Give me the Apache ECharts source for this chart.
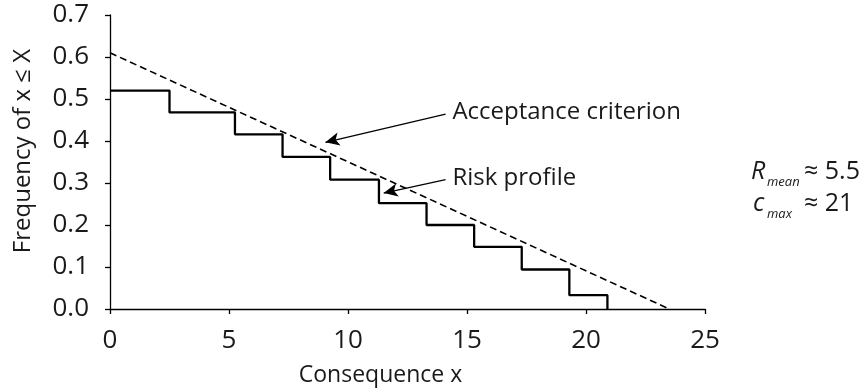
<!DOCTYPE html>
<html>
<head>
<meta charset="utf-8">
<script src="https://cdn.jsdelivr.net/npm/echarts@6/dist/echarts.min.js"></script>
<style>html,body{margin:0;padding:0;background:#fff}#c{width:867px;height:392px}</style>
</head>
<body>
<div id="c"></div>
<script>
// Risk profile (step curve): consequence x and frequency of x <= X
const stepX = [0, 2.5, 5.25, 7.25, 9.25, 11.3, 13.3, 15.3, 17.3, 19.3, 20.9];
const stepY = [0.52, 0.468, 0.416, 0.362, 0.308, 0.252, 0.2, 0.148, 0.094, 0.033, 0];
// Acceptance criterion (dashed straight line)
const critX = [0, 23.5];
const critY = [0.61, 0];
// Axis ticks
const xTicks = [0, 5, 10, 15, 20, 25];
const yTicks = [0.0, 0.1, 0.2, 0.3, 0.4, 0.5, 0.6, 0.7];
// Annotation arrows: [label, fromX, fromY, tipX, tipY]
const annotations = [
  ['Acceptance criterion', 14.1, 0.464, 9.05, 0.397],
  ['Risk profile', 14.1, 0.308, 11.5, 0.276]
];
const FONT = 'Open Sans';
const INK = '#1a1a1a';

const chart = echarts.init(document.getElementById('c'), null, {renderer: 'canvas'});
const zip = (a, b) => a.map((v, i) => [v, b[i]]);

chart.setOption({
  animation: false,
  textStyle: {fontFamily: FONT, color: INK},
  grid: {left: 110, right: 162, top: 15, bottom: 83, containLabel: false},
  xAxis: {
    type: 'value', min: xTicks[0], max: xTicks[xTicks.length - 1], interval: 5,
    name: 'Consequence x', nameLocation: 'middle', nameGap: 55,
    nameTextStyle: {fontFamily: FONT, fontSize: 23, color: INK, padding: [0, 54, 0, 0]},
    axisLine: {show: true, onZero: false, lineStyle: {color: '#000', width: 1.3}},
    axisTick: {show: true, length: 5, lineStyle: {color: '#000', width: 1.3}},
    axisLabel: {margin: 19, fontFamily: FONT, fontSize: 26, color: INK},
    splitLine: {show: false}
  },
  yAxis: {
    type: 'value', min: yTicks[0], max: yTicks[yTicks.length - 1], interval: 0.1,
    name: 'Frequency of x \u2264 X', nameLocation: 'middle', nameGap: 75, nameRotate: 90,
    nameTextStyle: {fontFamily: FONT, fontSize: 24, color: INK, padding: [0, 0, 0, 22]},
    axisLine: {show: true, onZero: false, lineStyle: {color: '#000', width: 1.3}},
    axisTick: {show: true, length: 5, lineStyle: {color: '#000', width: 1.3}},
    axisLabel: {margin: 21, fontFamily: FONT, fontSize: 26, color: INK,
      formatter: v => v.toFixed(1)},
    splitLine: {show: false}
  },
  series: [
    {
      type: 'line', name: 'Risk profile', step: 'end', symbol: 'none',
      data: zip(stepX, stepY),
      lineStyle: {color: '#000', width: 2.3},
      z: 3
    },
    {
      type: 'line', name: 'Acceptance criterion', symbol: 'none',
      data: zip(critX, critY),
      lineStyle: {color: '#000', width: 1.6, type: [7, 4]},
      z: 2,
      markLine: {
        silent: true, symbol: ['none', 'arrow'], symbolSize: [10, 14],
        lineStyle: {color: '#000', width: 1.3, type: 'solid'},
        label: {show: true, position: 'start', distance: 7,
          fontFamily: FONT, fontSize: 24, color: INK,
          formatter: p => p.data && p.data.name ? p.data.name : ''},
        data: annotations.map(a => [
          {name: a[0], coord: [a[1], a[2]]},
          {coord: [a[3], a[4]]}
        ])
      }
    }
  ],
  graphic: [
    {type: 'text', left: 751, top: 159, style: {text: 'R', font: 'italic 25px "Open Sans"', fill: INK}},
    {type: 'text', left: 767, top: 176, style: {text: 'mean', font: 'italic 13px "Open Sans"', fill: INK}},
    {type: 'text', left: 804, top: 159, style: {text: '\u2248 5.5', font: '25px "Open Sans"', fill: INK}},
    {type: 'text', left: 753, top: 191, style: {text: 'c', font: 'italic 25px "Open Sans"', fill: INK}},
    {type: 'text', left: 767, top: 208, style: {text: 'max', font: 'italic 13px "Open Sans"', fill: INK}},
    {type: 'text', left: 804, top: 191, style: {text: '\u2248 21', font: '25px "Open Sans"', fill: INK}}
  ]
});
</script>
</body>
</html>
